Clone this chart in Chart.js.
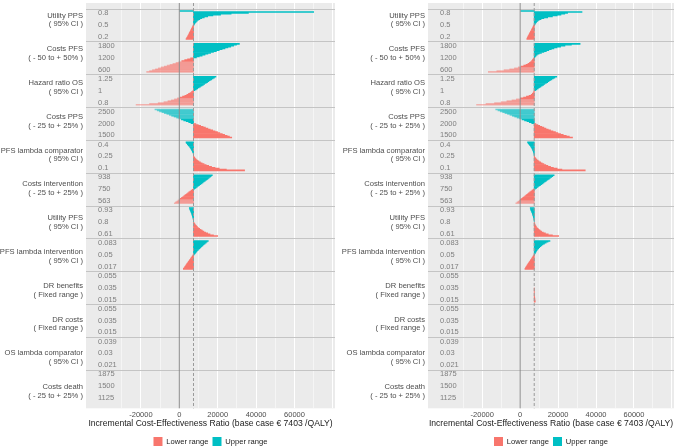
<!DOCTYPE html>
<html>
<head>
<meta charset="utf-8">
<script src="https://cdn.jsdelivr.net/npm/chart.js@4.4.1/dist/chart.umd.min.js"></script>
<style>
  html, body { margin: 0; padding: 0; background: #fff; }
  .panel { position: absolute; top: 0; width: 338px; height: 446px; }
  #leftPanel { left: 0; }
  #rightPanel { left: 338px; }
</style>
</head>
<body>
<div class="panel" id="leftPanel"><canvas id="leftChart"></canvas></div>
<div class="panel" id="rightPanel"><canvas id="rightChart"></canvas></div>
<script>
// Parameters, top to bottom
const paramNames = ['Utility PPS', 'Costs PFS', 'Hazard ratio OS', 'Costs PPS', 'PFS lambda comparator',
    'Costs intervention', 'Utility PFS', 'PFS lambda intervention', 'DR benefits', 'DR costs',
    'OS lambda comparator', 'Costs death'];
const rangeNotes = ['( 95% CI )', '( - 50 to + 50% )', '( 95% CI )', '( - 25 to + 25% )', '( 95% CI )',
    '( - 25 to + 25% )', '( 95% CI )', '( 95% CI )', '( Fixed range )', '( Fixed range )',
    '( 95% CI )', '( - 25 to + 25% )'];
const tickHigh = ['0.8', '1800', '1.25', '2500', '0.4', '938', '0.93', '0.083', '0.055', '0.055', '0.039', '1875'];
const tickMid = ['0.5', '1200', '1', '2000', '0.25', '750', '0.8', '0.05', '0.035', '0.035', '0.03', '1500'];
const tickLow = ['0.2', '600', '0.8', '1500', '0.1', '563', '0.61', '0.017', '0.015', '0.015', '0.021', '1125'];

const baseIcer = 7403;
const xLabels = [-20000, 0, 20000, 40000, 60000];
const xGrid = [-30000, -20000, -10000, 0, 10000, 20000, 30000, 40000, 50000, 60000, 70000, 80000];

// ICER per step, going from the base value outwards (lower range = parameter below base)
const lowerLeft = [
    [7200, 7000, 6750, 6500, 6250, 6000, 5800, 5550, 5300, 5100, 4850, 4600, 4350, 4100, 3800, 3500],
    [5900, 4300, 2800, 1300, -200, -1700, -3300, -4800, -6300, -7800, -9400, -10900, -12400, -14000, -15500, -17000],
    [6900, 6300, 5600, 4800, 3900, 2900, 1700, 400, -1000, -2500, -4100, -5900, -8000, -11000, -15500, -22500],
    [8650, 9900, 11100, 12400, 13600, 14900, 16100, 17400, 18600, 19900, 21100, 22400, 23600, 24900, 26100, 27300],
    [7700, 8000, 8400, 8900, 9500, 10200, 11000, 11900, 12900, 14000, 15300, 16800, 18600, 20800, 24500, 34000],
    [6800, 6150, 5500, 4900, 4300, 3650, 3000, 2400, 1800, 1150, 500, -100, -700, -1300, -2000, -2600],
    [7600, 7900, 8200, 8600, 9000, 9500, 10000, 10600, 11300, 12000, 12800, 13700, 14800, 16000, 17800, 20000],
    [7070, 6740, 6400, 6070, 5740, 5410, 5080, 4750, 4420, 4080, 3750, 3420, 3090, 2760, 2430, 2100],
    [], [], [], []
];
const upperLeft = [
    [7700, 8000, 8400, 8800, 9300, 9900, 10700, 11700, 13000, 14800, 17500, 21500, 27000, 36000, 70000, 0],
    [8900, 10400, 11900, 13400, 14900, 16300, 17800, 19300, 20800, 22300, 23800, 25300, 26800, 28300, 29800, 31300],
    [8100, 8850, 9600, 10300, 11000, 11800, 12500, 13200, 14000, 14700, 15400, 16100, 16900, 17600, 18300, 19100],
    [6100, 4900, 3600, 2300, 1100, -200, -1400, -2700, -4000, -5200, -6500, -7800, -9000, -10300, -11500, -12700],
    [7400, 7350, 7300, 7200, 7000, 6800, 6600, 6300, 6000, 5700, 5400, 5000, 4600, 4200, 3800, 3500],
    [8000, 8650, 9300, 9900, 10500, 11100, 11800, 12400, 13000, 13600, 14300, 14900, 15500, 16100, 16600, 17200],
    [7400, 7350, 7300, 7200, 7100, 7000, 6850, 6700, 6550, 6400, 6200, 6000, 5800, 5600, 5400, 5200],
    [7800, 8200, 8600, 9000, 9400, 9900, 10300, 10800, 11300, 11800, 12300, 12800, 13400, 14000, 14500, 15100],
    [], [], [], []
];
const lowerRight = [
    [7150, 6900, 6650, 6400, 6150, 5900, 5650, 5400, 5150, 4900, 4650, 4400, 4150, 3900, 3700, 3500],
    [7100, 6800, 6400, 6000, 5500, 4900, 4100, 3100, 1900, 500, -1000, -3000, -5500, -8500, -12300, -16800],
    [7300, 7100, 6800, 6400, 5800, 4700, 3300, 1800, 100, -2000, -4300, -7000, -10000, -13500, -18000, -23000],
    [8300, 9300, 10300, 11400, 12500, 13600, 14800, 16000, 17300, 18600, 19900, 21300, 22700, 24300, 25900, 27600],
    [7600, 7900, 8300, 8800, 9400, 10000, 10800, 11600, 12500, 13500, 14600, 16000, 17500, 19500, 22000, 34300],
    [6800, 6200, 5600, 5000, 4350, 3750, 3150, 2550, 1950, 1350, 750, 150, -450, -1050, -1650, -2300],
    [7500, 7600, 7800, 8000, 8300, 8600, 9000, 9500, 10000, 10600, 11300, 12200, 13300, 14800, 17000, 20300],
    [7100, 6800, 6500, 6200, 5900, 5550, 5250, 4950, 4600, 4300, 3950, 3650, 3350, 3050, 2750, 2500],
    [7403, 7403, 7403, 7403, 7403, 7403, 7403, 7403, 7403, 7500, 7600, 7700, 7750, 7800, 7850, 7900],
    [], [], []
];
const upperRight = [
    [7700, 8000, 8300, 8700, 9300, 10000, 11000, 12500, 14500, 17000, 19500, 21500, 23500, 25000, 32600, 0],
    [7700, 8000, 8400, 9000, 10000, 11200, 12500, 13800, 15100, 16400, 17800, 19400, 21300, 23600, 27000, 31600],
    [8100, 8800, 9500, 10200, 10900, 11600, 12300, 13000, 13800, 14500, 15200, 15900, 16700, 17500, 18300, 19300],
    [6100, 4800, 3600, 2300, 1000, -300, -1600, -2900, -4100, -5400, -6700, -8000, -9200, -10500, -11700, -12900],
    [7400, 7350, 7300, 7200, 7050, 6900, 6700, 6500, 6250, 6000, 5700, 5400, 5000, 4600, 4250, 3900],
    [8050, 8700, 9350, 10000, 10700, 11300, 12000, 12600, 13300, 13900, 14600, 15300, 15900, 16600, 17200, 17900],
    [7400, 7350, 7300, 7200, 7100, 7000, 6850, 6700, 6550, 6400, 6200, 6000, 5800, 5600, 5450, 5300],
    [7600, 7850, 8100, 8400, 8700, 9000, 9400, 9800, 10300, 10800, 11400, 12000, 12800, 13700, 14700, 15700],
    [], [], [], []
];

const FONT = "'Liberation Sans', Arial, sans-serif";
Chart.defaults.font.family = FONT;

const lowerColor = '#F8766D';
const upperColor = '#00BFC4';
const lowerFaint = 'rgba(248,118,109,0.5)';
const upperFaint = 'rgba(0,191,196,0.55)';

// each half of a parameter block covers this share of the block
const halfBand = 0.44;

// one bar per step; side -1 = above the base row, +1 = below
function barPoints(icers, side, negative) {
    const pts = [];
    icers.forEach((list, row) => {
        list.forEach((icer, k) => {
            if ((icer < 0) !== negative) return;
            const offset = (k + 0.5) / list.length * halfBand;
            pts.push({ y: row + 0.5 + side * offset, x: [baseIcer, icer] });
        });
    });
    return pts;
}

const tickText = [];
paramNames.forEach((_, i) => tickText.push(tickHigh[i], tickMid[i], tickLow[i]));

// keep the axes from reserving room for overhanging labels
function noPadding(s) {
    s.paddingTop = 0;
    s.paddingBottom = 0;
    s.paddingLeft = 0;
    s.paddingRight = 0;
}

// grey panel, block separators, zero and base case lines
const panelDecor = {
    id: 'panelDecor',
    beforeDraw(chart) {
        const { ctx, chartArea: a } = chart;
        ctx.save();
        ctx.fillStyle = '#EBEBEB';
        ctx.fillRect(a.left, a.top, a.right - a.left, a.bottom - a.top);
        ctx.restore();
    },
    beforeDatasetsDraw(chart) {
        const { ctx, chartArea: a } = chart;
        const y = chart.scales.y;
        ctx.save();
        ctx.strokeStyle = '#C4C4C4';
        ctx.lineWidth = 1;
        for (let i = 0; i < paramNames.length; i++) {
            const py = Math.round(y.getPixelForValue(i)) + 0.5;
            ctx.beginPath();
            ctx.moveTo(a.left, py);
            ctx.lineTo(a.right, py);
            ctx.stroke();
        }
        ctx.restore();
    },
    afterDatasetsDraw(chart) {
        const { ctx, chartArea: a } = chart;
        const x = chart.scales.x;
        ctx.save();
        ctx.strokeStyle = '#8A8A8A';
        ctx.lineWidth = 1;
        const x0 = x.getPixelForValue(0);
        ctx.beginPath();
        ctx.moveTo(x0, a.top);
        ctx.lineTo(x0, a.bottom);
        ctx.stroke();
        ctx.strokeStyle = '#9A9A9A';
        ctx.setLineDash([3, 2]);
        const xb = x.getPixelForValue(baseIcer);
        ctx.beginPath();
        ctx.moveTo(xb, a.top);
        ctx.lineTo(xb, a.bottom);
        ctx.stroke();
        ctx.restore();
    }
};

function buildChart(canvasId, lower, upper, namesWidth, rightPad) {
    return new Chart(document.getElementById(canvasId), {
        type: 'bar',
        data: {
            datasets: [
                { label: 'Lower range', data: barPoints(lower, 1, false), backgroundColor: lowerColor },
                { label: 'Upper range', data: barPoints(upper, -1, false), backgroundColor: upperColor },
                { label: 'lowerFaint', data: barPoints(lower, 1, true), backgroundColor: lowerFaint },
                { label: 'upperFaint', data: barPoints(upper, -1, true), backgroundColor: upperFaint }
            ]
        },
        options: {
            indexAxis: 'y',
            responsive: true,
            maintainAspectRatio: false,
            animation: false,
            layout: { padding: { top: 3, right: rightPad, left: 0, bottom: -10 } },
            datasets: {
                bar: { grouped: false, barPercentage: 1, categoryPercentage: 1, borderWidth: 0 }
            },
            scales: {
                x: {
                    type: 'linear',
                    min: -48600,
                    max: 81100,
                    afterBuildTicks: axis => { axis.ticks = xGrid.map(v => ({ value: v })); },
                    afterFit: s => { s.height = 24.7; noPadding(s); },
                    ticks: {
                        autoSkip: false,
                        maxRotation: 0,
                        padding: 2,
                        color: '#4D4D4D',
                        font: { size: 7.5 },
                        callback: v => xLabels.includes(v) ? String(v) : ''
                    },
                    grid: {
                        drawTicks: false,
                        color: '#FFFFFF',
                        lineWidth: ctx => xLabels.includes(ctx.tick.value) || ctx.tick.value === 80000 ? 1 : 0.5
                    },
                    border: { display: false },
                    title: {
                        display: true,
                        text: 'Incremental Cost-Effectiveness Ratio (base case € 7403 /QALY)',
                        color: '#1A1A1A',
                        font: { size: 8.6 },
                        padding: { top: 0, bottom: 4.5 }
                    }
                },
                y: {
                    type: 'linear',
                    min: 0,
                    max: paramNames.length,
                    reverse: true,
                    weight: 0,
                    afterFit: s => { s.width = 0; noPadding(s); },
                    afterBuildTicks: axis => {
                        axis.ticks = [];
                        paramNames.forEach((_, i) => {
                            axis.ticks.push({ value: i + 0.14 }, { value: i + 0.5 }, { value: i + 0.86 });
                        });
                    },
                    ticks: {
                        mirror: true,
                        padding: 12,
                        autoSkip: false,
                        color: '#7F7F7F',
                        font: { size: 7.5 },
                        callback: (v, i) => tickText[i]
                    },
                    grid: { display: false, drawTicks: false },
                    border: { display: false }
                },
                names: {
                    type: 'category',
                    position: 'left',
                    labels: paramNames.map((n, i) => [n, rangeNotes[i]]),
                    offset: true,
                    weight: 1,
                    afterFit: s => { s.width = namesWidth; noPadding(s); },
                    ticks: {
                        padding: 3,
                        autoSkip: false,
                        color: '#4D4D4D',
                        font: { size: 7.6, lineHeight: 1.16 }
                    },
                    grid: { display: false, drawTicks: false },
                    border: { display: false }
                }
            },
            plugins: {
                legend: {
                    position: 'bottom',
                    fullSize: false,
                    labels: {
                        boxWidth: 9,
                        boxHeight: 9,
                        padding: 4,
                        color: '#1A1A1A',
                        font: { size: 7.6 },
                        filter: item => item.datasetIndex < 2
                    }
                },
                tooltip: { enabled: false }
            }
        },
        plugins: [panelDecor]
    });
}

buildChart('leftChart', lowerLeft, upperLeft, 86, 3);
buildChart('rightChart', lowerRight, upperRight, 90, 2);
</script>
</body>
</html>
